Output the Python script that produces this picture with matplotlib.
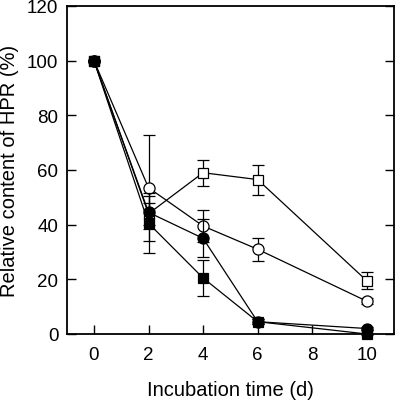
import matplotlib
matplotlib.use("Agg")
import matplotlib.pyplot as plt

plt.rcParams['font.family'] = ['Liberation Sans', 'DejaVu Sans']

days = [0, 2, 4, 6, 10]
open_square = [100, 44, 59, 56.5, 19.5]
open_square_err = [0, 4, 4.7, 5.5, 3]
open_circle = [100, 53.5, 39.5, 31, 12]
open_circle_err = [0, 19.3, 5.7, 4.3, 1]
filled_circle = [100, 44.5, 35, 4.5, 2]
filled_circle_err = [0, 6, 7, 1, 0.5]
filled_square = [100, 40.5, 20.5, 4.5, 0]
filled_square_err = [0, 11, 6.5, 1, 0.5]

fig = plt.figure(figsize=(4.0, 4.02), dpi=100)
ax = fig.add_axes([0.1667, 0.1667, 0.985 - 0.1667, 0.9826 - 0.1667])

series = [
    (open_square, open_square_err, 's', 'white'),
    (open_circle, open_circle_err, 'o', 'white'),
    (filled_square, filled_square_err, 's', 'black'),
    (filled_circle, filled_circle_err, 'o', 'black'),
]
for i, (vals, errs, m, fc) in enumerate(series):
    ax.errorbar(days, vals, yerr=errs, fmt='-', color='black', lw=0.9,
                elinewidth=0.9, capsize=4, capthick=0.9,
                marker=m, markersize=8 if m == 'o' else 7.5,
                markerfacecolor=fc, markeredgecolor='black', markeredgewidth=0.9,
                clip_on=False, zorder=3 + i)

ax.set_xlim(-1, 11)
ax.set_ylim(0, 120)
ax.set_xticks([0, 2, 4, 6, 8, 10])
ax.set_yticks([0, 20, 40, 60, 80, 100, 120])
ax.tick_params(direction='in', length=6.5, width=1, labelsize=13.5, right=True, top=False)
ax.tick_params(axis='x', pad=9)
ax.tick_params(axis='y', pad=6)
for s in ax.spines.values():
    s.set_linewidth(1.3)

ax.set_xlabel('Incubation time (d)', fontsize=14.5, labelpad=12)
ax.set_ylabel('Relative content of HPR (%)', fontsize=14.5, labelpad=6)

fig.savefig('out.png', dpi=100)
